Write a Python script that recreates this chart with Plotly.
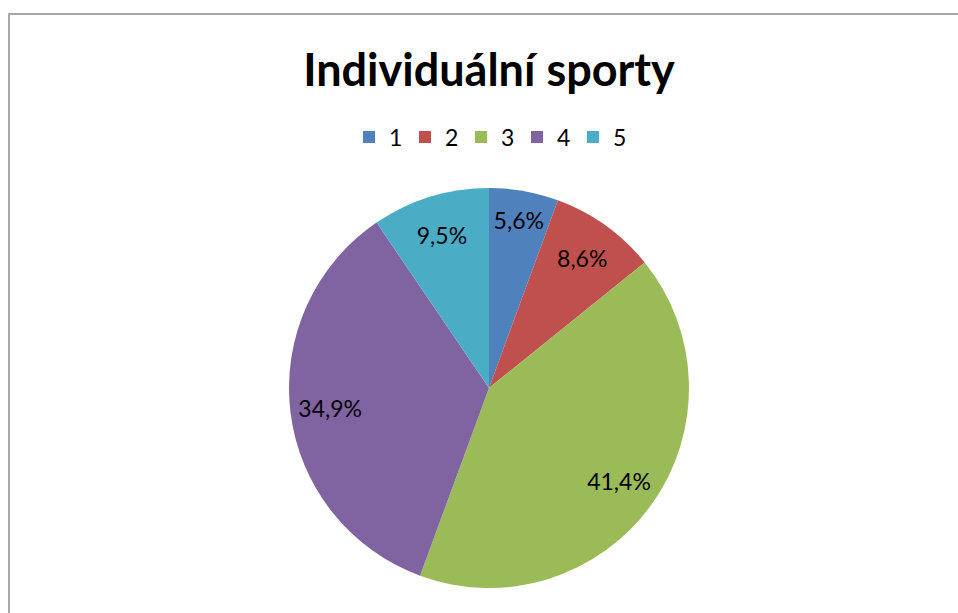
import plotly.graph_objects as go

labels = ["1", "2", "3", "4", "5"]
values = [5.6, 8.6, 41.4, 34.9, 9.5]
colors = ["#4F81BD", "#C0504D", "#9BBB59", "#8064A2", "#4BACC6"]
title = "Individuální sporty"

W, H = 958, 613
cx, cy, r = 489, 388, 200
dom = dict(x=[(cx - r) / W, (cx + r) / W], y=[(H - cy - r) / H, (H - cy + r) / H])

fig = go.Figure()
# coloured slices
fig.add_trace(go.Pie(
    labels=labels, values=values, sort=False, direction="clockwise", rotation=0,
    marker=dict(colors=colors, line=dict(width=0)),
    textinfo="none", hoverinfo="label+percent", domain=dom,
))
# transparent ring that carries the percentage labels near the rim (Excel-like placement)
fig.add_trace(go.Pie(
    labels=labels, values=values, sort=False, direction="clockwise", rotation=0, hole=0.6,
    marker=dict(colors=["rgba(0,0,0,0)"] * len(values), line=dict(width=0)),
    texttemplate="%{percent:.1%}", textposition="inside", insidetextorientation="horizontal",
    textfont=dict(family="Lato", size=23, color="black"),
    hoverinfo="skip", showlegend=False, domain=dom,
))

# chart-area frame (only its left and top edges fall inside the picture)
fx, fy = 9, 14
frame = f"M {fx},{H + 20} L {fx},{fy} L {W + 40},{fy}"

fig.update_layout(
    width=W, height=H,
    margin=dict(l=0, r=0, t=0, b=0),
    paper_bgcolor="white",
    plot_bgcolor="white",
    separators=", ",
    title=dict(text=f"<b>{title}</b>", x=cx / W, xanchor="center", y=1 - 70 / H, yanchor="middle",
               font=dict(family="Lato", size=45, color="black")),
    legend=dict(orientation="h", x=cx / W, xanchor="center", y=1 - 137 / H, yanchor="middle",
                font=dict(family="Lato", size=23, color="black"), itemclick=False,
                bgcolor="rgba(0,0,0,0)", entrywidth=11, entrywidthmode="pixels"),
    xaxis=dict(visible=False, range=[0, W]),
    yaxis=dict(visible=False, range=[H, 0]),
    shapes=[dict(type="path", xref="x", yref="y", path=frame,
                 line=dict(color="#A8A8A8", width=2), layer="below")],
)

fig.write_html(
    "out.html",
    config={"displayModeBar": False},
    post_script="document.body.style.margin='0';document.body.style.overflow='hidden';",
)
